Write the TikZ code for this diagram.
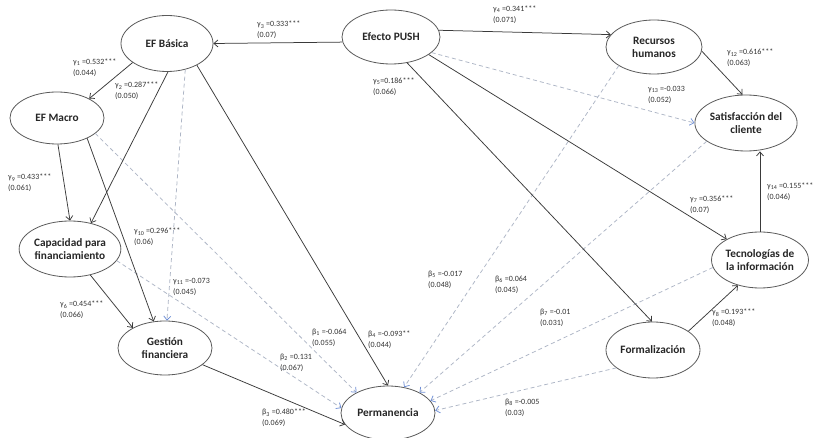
\documentclass[tikz,border=0pt]{standalone}
\usepackage{fontspec}
\setmainfont{Carlito}
\usetikzlibrary{shapes.geometric,arrows.meta}
\definecolor{dashcol}{HTML}{AEB6C6}
\definecolor{tipcol}{HTML}{6F8FD6}
\definecolor{edgecol}{HTML}{3A3A3A}
\definecolor{ellcol}{HTML}{5A5A5A}
\tikzset{
  ell/.style={ellipse, draw=ellcol, line width=0.8pt, fill=white, inner sep=0pt,
    font=\fontsize{11.3}{13}\selectfont\bfseries, align=center, text=black!85},
  lab/.style={anchor=north west, inner sep=0pt, align=left,
    font=\fontsize{8}{11}\selectfont, text=black!80},
  sol/.style={draw=edgecol, line width=0.75pt, -{Straight Barb[length=4pt,width=7pt]}},
  dsh/.style={draw=dashcol, line width=0.75pt, dash pattern=on 4pt off 3pt,
    -{Straight Barb[length=4pt,width=7pt,color=tipcol]}},
}
\begin{document}
\begin{tikzpicture}[x=1pt,y=-1pt]
\useasboundingbox (0,0) rectangle (815,438);
\fill[white] (0,0) rectangle (815,438);
% nodes
\node[ell, minimum width=92pt, minimum height=56pt] (basica) at (167,43.5) {EF Básica};
\node[ell, minimum width=98pt, minimum height=54pt] (push) at (391,37) {Efecto PUSH};
\node[ell, minimum width=96pt, minimum height=54pt] (rh) at (654,47) {Recursos\\humanos};
\node[ell, minimum width=94pt, minimum height=56pt] (satisf) at (746,123) {Satisfacción del\\cliente};
\node[ell, minimum width=94pt, minimum height=52pt] (macro) at (57,118) {EF Macro};
\node[ell, minimum width=96pt, minimum height=56pt] (cap) at (70,249) {Capacidad para\\financiamiento};
\node[ell, minimum width=94pt, minimum height=54pt] (gest) at (165,348) {Gestión\\financiera};
\node[ell, minimum width=94pt, minimum height=54pt] (perm) at (388,413) {Permanencia};
\node[ell, minimum width=94pt, minimum height=56pt] (formal) at (653,350) {Formalización};
\node[ell, minimum width=94pt, minimum height=56pt] (tec) at (760,260) {Tecnologías de\\la información};
% dashed paths
\draw[dsh] (push.-21) -- (satisf.180);
\draw[dsh] (basica.-55) -- (gest.86);
\draw[dsh] (macro.-22) -- (perm.147);
\draw[dsh] (cap.-14) -- (perm.174);
\draw[dsh] (rh.208) -- (perm.58);
\draw[dsh] (satisf.205) -- (perm.33);
\draw[dsh] (tec.189) -- (perm.16);
\draw[dsh] (formal.206) -- (perm.3);
% solid paths
\draw[sol] (push.186) -- (basica.0);
\draw[sol] (push.8) -- (rh.164);
\draw[sol] (push.-58) -- (formal.92);
\draw[sol] (push.-25) -- (tec.148);
\draw[sol] (rh.-5) -- (satisf.97);
\draw[sol] (tec.north) -- (tec.north |- satisf.south);
\draw[sol] (formal.28) -- (tec.-131);
\draw[sol] (basica.209) -- (macro.31);
\draw[sol] (basica.-88) -- (cap.51);
\draw[sol] (macro.-88) -- (cap.90);
\draw[sol] (macro.-34) -- (gest.113);
\draw[sol] (cap.-52) -- (gest.148);
\draw[sol] (basica.-36) -- (perm.90);
\draw[sol] (gest.-24) -- (perm.195);
% labels
\node[lab] (l3) at (257,21) {γ\textsubscript{3} =0.333***\\(0.07)};
\node[lab] (l4) at (493,6) {γ\textsubscript{4} =0.341***\\(0.071)};
\node[lab] (l5) at (373,78) {γ\textsubscript{5}=0.186***\\(0.066)};
\node[lab] (l12) at (727,49) {γ\textsubscript{12} =0.616***\\(0.063)};
\node[lab] (l13) at (648,86) {γ\textsubscript{13} =-0.033\\(0.052)};
\node[lab] (l1) at (73,59) {γ\textsubscript{1} =0.532***\\(0.044)};
\node[lab] (l2) at (115,82) {γ\textsubscript{2} =0.287***\\(0.050)};
\node[lab] (l9) at (8,174) {γ\textsubscript{9} =0.433***\\(0.061)};
\node[lab] (l10) at (134,228) {γ\textsubscript{10} =0.296***\\(0.06)};
\node[lab] (l11) at (173,278) {γ\textsubscript{11} =-0.073\\(0.045)};
\node[lab] (l6) at (60,301) {γ\textsubscript{6} =0.454***\\(0.066)};
\node[lab] (l7) at (690,196) {γ\textsubscript{7} =0.356***\\(0.07)};
\node[lab] (l14) at (767,183) {γ\textsubscript{14} =0.155***\\(0.046)};
\node[lab] (l8) at (712,309) {γ\textsubscript{8} =0.193***\\(0.048)};
\node[lab] (b5) at (428,271) {β\textsubscript{5} =-0.017\\(0.048)};
\node[lab] (b6) at (495,276) {β\textsubscript{6} =0.064\\(0.045)};
\node[lab] (b7) at (540,309) {β\textsubscript{7} =-0.01\\(0.031)};
\node[lab] (b8) at (505,399) {β\textsubscript{8} =-0.005\\(0.03)};
\node[lab] (b1) at (312,329) {β\textsubscript{1} =-0.064\\(0.055)};
\node[lab] (b4) at (368,331) {β\textsubscript{4} =-0.093**\\(0.044)};
\node[lab] (b2) at (280,354) {β\textsubscript{2} =0.131\\(0.067)};
\node[lab] (b3) at (262,409) {β\textsubscript{3} =0.480***\\(0.069)};
\end{tikzpicture}
\end{document}
